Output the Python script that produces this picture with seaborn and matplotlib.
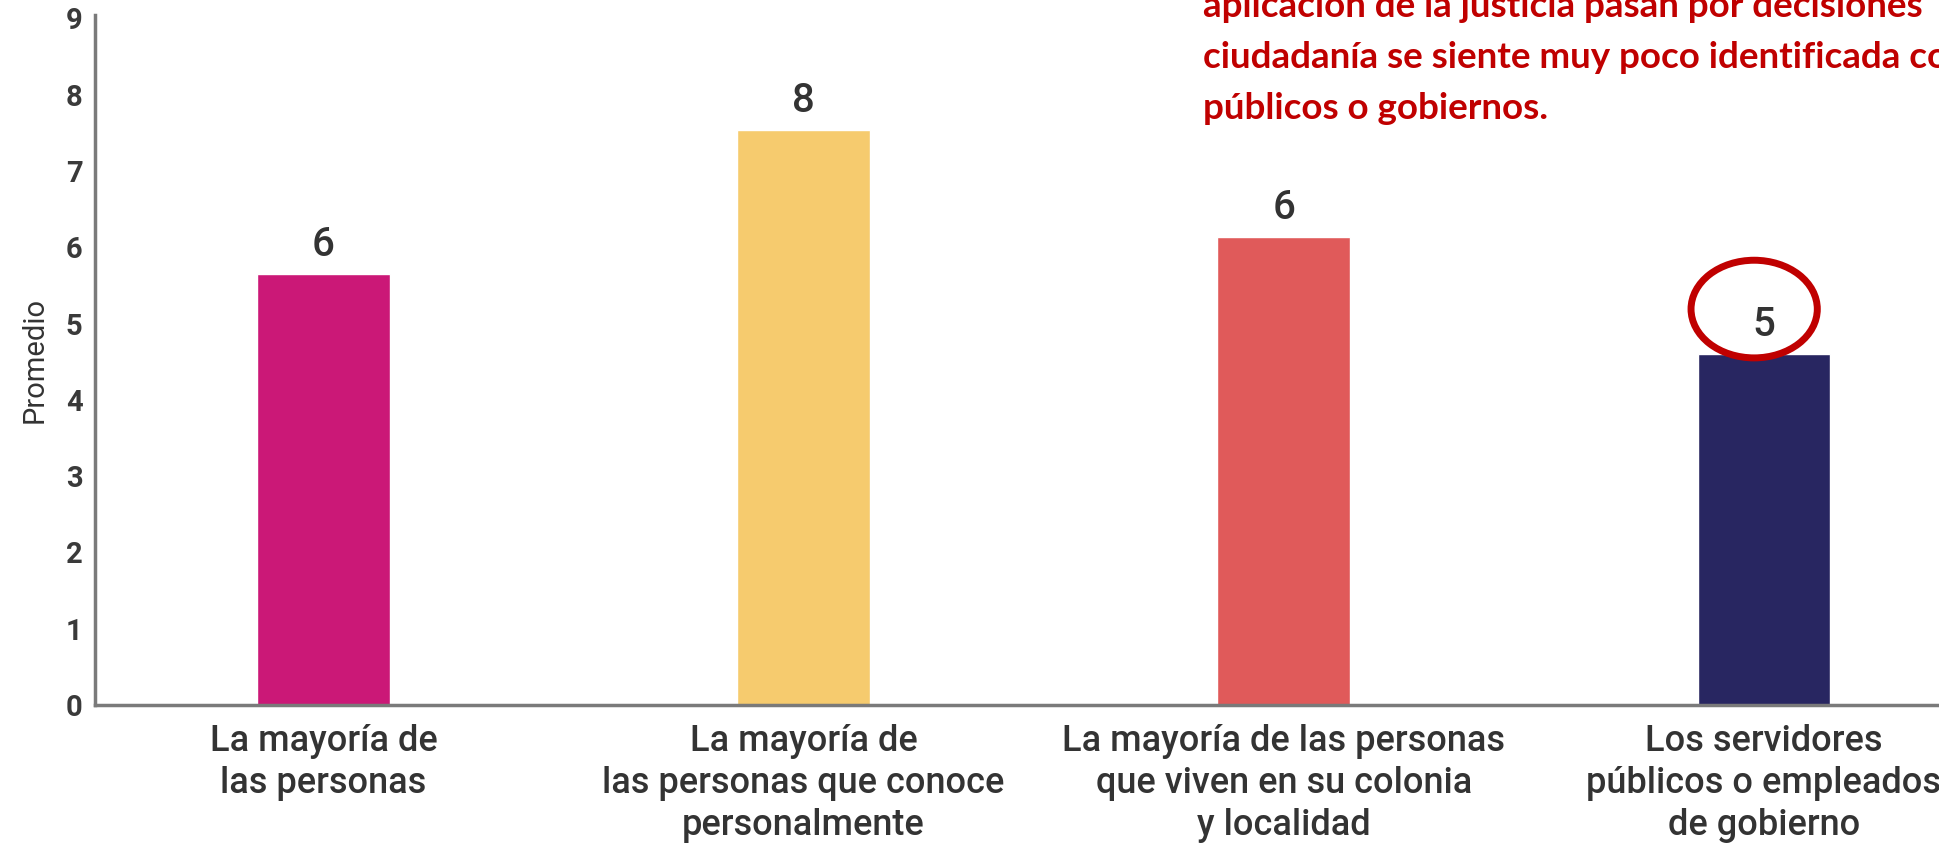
import matplotlib
matplotlib.use("Agg")
import matplotlib.pyplot as plt
import seaborn as sns
import pandas as pd
from matplotlib.patches import Ellipse

categories = [
    "La mayoría de\nlas personas",
    "La mayoría de\nlas personas que conoce\npersonalmente",
    "La mayoría de las personas\nque viven en su colonia\ny localidad",
    "Los servidores\npúblicos o empleados\nde gobierno",
]
values = [5.65, 7.54, 6.14, 4.60]
value_labels = ["6", "8", "6", "5"]
bar_colors = ["#CB1877", "#F6CB6E", "#E05A5A", "#282661"]
y_ticks = list(range(0, 10))
note_lines = [
    "aplicación de la justicia pasan por decisiones",
    "ciudadanía se siente muy poco identificada con",
    "públicos o gobiernos.",
]

sns.set_theme(style="white")
plt.rcParams["font.family"] = ["Roboto", "DejaVu Sans"]

df = pd.DataFrame({"cat": categories, "val": values})

fig = plt.figure(figsize=(19.39, 8.52), dpi=100)
ax = fig.add_axes([0.049, 0.1725, 0.951, 0.8104])
sns.barplot(data=df, x="cat", y="val", hue="cat", palette=bar_colors,
            legend=False, width=0.276, ax=ax, saturation=1)

ax.set_xlim(-0.476, 3.365)
ax.set_ylim(0, 9.05)
ax.set_yticks(y_ticks)
ax.set_yticklabels([str(t) for t in y_ticks], fontsize=21, fontweight="bold", color="#3a3a3a")
ax.tick_params(axis="y", length=0, pad=9)
ax.tick_params(axis="x", length=0, pad=14)
for lbl in ax.get_xticklabels():
    lbl.set_fontsize(26)
    lbl.set_fontweight(500)
    lbl.set_color("#333333")
    lbl.set_linespacing(1.25)
ax.set_xlabel("")
ax.set_ylabel("Promedio", fontsize=21, color="#333333", labelpad=12)

for s in ["top", "right"]:
    ax.spines[s].set_visible(False)
for s in ["left", "bottom"]:
    ax.spines[s].set_color("#7a7a7a")
    ax.spines[s].set_linewidth(2.5)

for i, (v, t) in enumerate(zip(values, value_labels)):
    ax.annotate(t, (i, v), xytext=(0, 7), textcoords="offset points",
                ha="center", va="bottom", fontsize=29, fontweight=500, color="#333333")

# red circle highlighting the last value
ell = Ellipse((3 - 0.02, values[3] + 0.59), width=0.263, height=1.28,
              fill=False, edgecolor="#C00000", linewidth=5, zorder=5, clip_on=False)
ax.add_patch(ell)

for k, line in enumerate(note_lines):
    fig.text(1203 / 1939, 1 - (17 + 51 * k) / 852, line, ha="left", va="baseline",
             fontsize=26.5, fontweight="bold", color="#C00000", family=["Lato", "DejaVu Sans"])

fig.savefig("out.png", dpi=100)
